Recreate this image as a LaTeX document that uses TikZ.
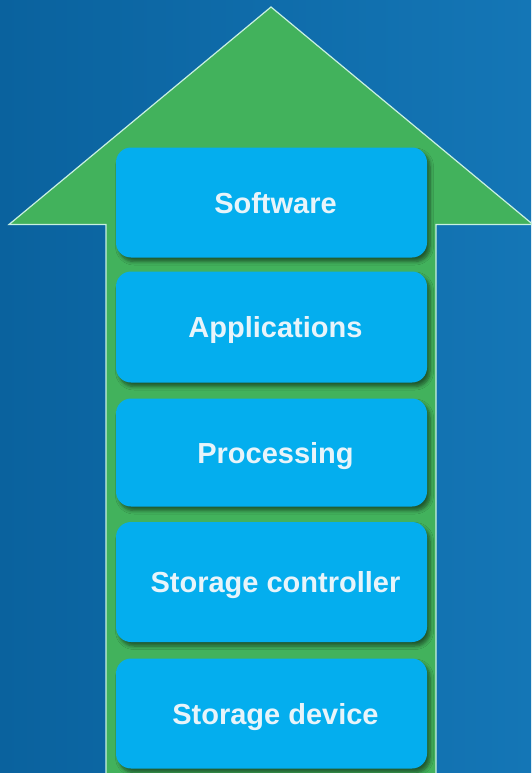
\documentclass[tikz,border=0pt]{standalone}
\usepackage{fontspec}
\setmainfont{Liberation Sans}
\usetikzlibrary{shadows.blur}
\definecolor{bgdark}{RGB}{10,98,158}
\definecolor{bglight}{RGB}{20,118,182}
\definecolor{arrowgreen}{RGB}{66,178,92}
\definecolor{boxblue}{RGB}{4,174,238}
\definecolor{textwhite}{RGB}{232,244,250}
\definecolor{edgewhite}{RGB}{200,240,225}
\newcommand{\lbl}[1]{\hspace*{8pt}#1}
\tikzset{
  layerbox/.style={fill=boxblue, rounded corners=15pt, minimum width=311pt,
    inner sep=0pt, text height=21pt, text depth=0pt, text=textwhite,
    font=\fontsize{29}{32}\selectfont\bfseries,
    blur shadow={shadow xshift=3pt, shadow yshift=-4pt, shadow blur steps=6,
      shadow opacity=50, shadow blur radius=3.5pt}},
  arrowshape/.style={fill=arrowgreen, draw=edgewhite, line width=1.2pt, line join=miter}
}
\begin{document}
\begin{tikzpicture}[x=1pt,y=-1pt]
\useasboundingbox (0,0) rectangle (531,773);
\shade[left color=bgdark, right color=bglight] (0,0) rectangle (531,773);
\coordinate (tip) at (271,7);
\coordinate (hl) at (9,224.5);
\coordinate (hr) at (533,224.5);
\coordinate (sl) at (106,224.5);
\coordinate (sr) at (436,224.5);
\coordinate (bl) at (106,780);
\coordinate (br) at (436,780);
\draw[arrowshape] (bl) -- (sl) -- (hl) -- (tip) -- (hr) -- (sr) -- (br);
\node[layerbox, minimum height=110pt] (sw) at (271.5,202.5) {\lbl{Software}};
\node[layerbox, minimum height=111pt] (app) at (271.5,327) {\lbl{Applications}};
\node[layerbox, minimum height=108pt] (proc) at (271.5,452.5) {\lbl{Processing}};
\node[layerbox, minimum height=120pt] (sc) at (271.5,582) {\lbl{Storage controller}};
\node[layerbox, minimum height=110pt] (sd) at (271.5,713.5) {\lbl{Storage device}};
\end{tikzpicture}
\end{document}
